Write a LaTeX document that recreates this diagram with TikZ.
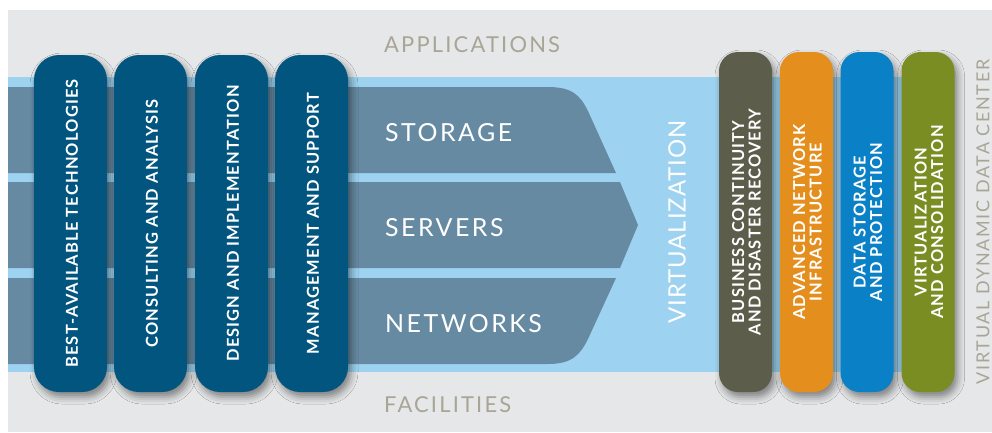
\documentclass[tikz,border=0pt]{standalone}
\usepackage{fontspec}
\setmainfont{Lato}
\newfontfamily\lbltxt[LetterSpace=10]{Lato}
\newfontfamily\virttxt[LetterSpace=4]{Lato}
\newfontfamily\pilltxt[LetterSpace=7]{Lato}
\usetikzlibrary{shadows.blur}
\definecolor{panelgrey}{HTML}{E6E7E8}
\definecolor{lightblue}{HTML}{9DD3F1}
\definecolor{bandblue}{HTML}{668AA2}
\definecolor{pillblue}{HTML}{02557F}
\definecolor{pillolive}{HTML}{5C5E4B}
\definecolor{pillorange}{HTML}{E48E1E}
\definecolor{pillsky}{HTML}{0A80C6}
\definecolor{pillgreen}{HTML}{7A8D23}
\definecolor{labelgrey}{HTML}{A8A596}
\tikzset{
  pillbox/.style={rectangle, inner sep=0pt, draw=none,
    blur shadow={shadow xshift=3bp, shadow yshift=-5bp, shadow blur radius=7bp, shadow opacity=45}},
  leftpill/.style={pillbox, fill=pillblue, minimum width=73bp, minimum height=337bp, rounded corners=25bp},
  rightpill/.style={pillbox, minimum width=53bp, minimum height=340bp, rounded corners=19bp},
  pilllabel/.style={rotate=90, text=white, inner sep=0pt, align=center,
    font=\pilltxt\bfseries\fontsize{16.5}{16.5}\selectfont},
  bandlabel/.style={text=white, inner sep=0pt, anchor=base west, font=\lbltxt\fontsize{25}{25}\selectfont},
  outerlabel/.style={text=labelgrey, inner sep=0pt, anchor=base west, font=\lbltxt\fontsize{22}{22}\selectfont},
}
\begin{document}
\begin{tikzpicture}[x=1bp, y=-1bp]
\useasboundingbox (0,0) rectangle (992,432);
% background panel
\fill[panelgrey] (8,10) rectangle (992,432);
% light blue virtualization band
\fill[lightblue] (8,77) rectangle (930,372);
% storage / servers / networks bands
\fill[bandblue] (8,87) -- (548,87) .. controls (572,87) and (580,95) .. (588,111) -- (616,173) -- (8,173) -- cycle;
\fill[bandblue] (8,182) -- (620,182) -- (638,225) -- (620,268) -- (8,268) -- cycle;
\fill[bandblue] (8,278) -- (616,278) -- (588,339) .. controls (580,355) and (572,364) .. (548,364) -- (8,364) -- cycle;
% band labels
\node[bandlabel] (storage) at (385,141) {STORAGE};
\node[bandlabel] (servers) at (385,236) {SERVERS};
\node[bandlabel] (networks) at (385,332) {NETWORKS};
\node[text=white, inner sep=0pt, rotate=90, font=\virttxt\fontsize{24}{24}\selectfont] (virt) at (677,222) {VIRTUALIZATION};
% outer labels
\node[outerlabel] (apps) at (384,52) {APPLICATIONS};
\node[outerlabel] (fac) at (384,412) {FACILITIES};
\node[text=labelgrey, inner sep=0pt, rotate=90, font=\lbltxt\fontsize{18}{18}\selectfont] (vddc) at (983,222) {VIRTUAL DYNAMIC DATA CENTER};
% left pills
\node[leftpill] (p1) at (70.5,223.5) {};
\node[leftpill] (p2) at (150.5,223.5) {};
\node[leftpill] (p3) at (231.5,223.5) {};
\node[leftpill] (p4) at (311.5,223.5) {};
\node[pilllabel] (t1) at ([xshift=1.5bp]p1.center) {BEST-AVAILABLE TECHNOLOGIES};
\node[pilllabel] (t2) at ([xshift=1.5bp]p2.center) {CONSULTING AND ANALYSIS};
\node[pilllabel] (t3) at ([xshift=1.5bp]p3.center) {DESIGN AND IMPLEMENTATION};
\node[pilllabel] (t4) at ([xshift=1.5bp]p4.center) {MANAGEMENT AND SUPPORT};
% right pills
\node[rightpill, fill=pillolive] (p5) at (745.5,222) {};
\node[rightpill, fill=pillorange] (p6) at (806.5,222) {};
\node[rightpill, fill=pillsky] (p7) at (867,222) {};
\node[rightpill, fill=pillgreen] (p8) at (928,222) {};
\node[pilllabel] (t5) at ([xshift=1bp]p5.center) {BUSINESS CONTINUITY\\AND DISASTER RECOVERY};
\node[pilllabel] (t6) at ([xshift=1bp]p6.center) {ADVANCED NETWORK\\INFRASTRUCTURE};
\node[pilllabel] (t7) at ([xshift=1bp]p7.center) {DATA STORAGE\\AND PROTECTION};
\node[pilllabel] (t8) at ([xshift=1bp]p8.center) {VIRTUALIZATION\\AND CONSOLIDATION};
\end{tikzpicture}
\end{document}
